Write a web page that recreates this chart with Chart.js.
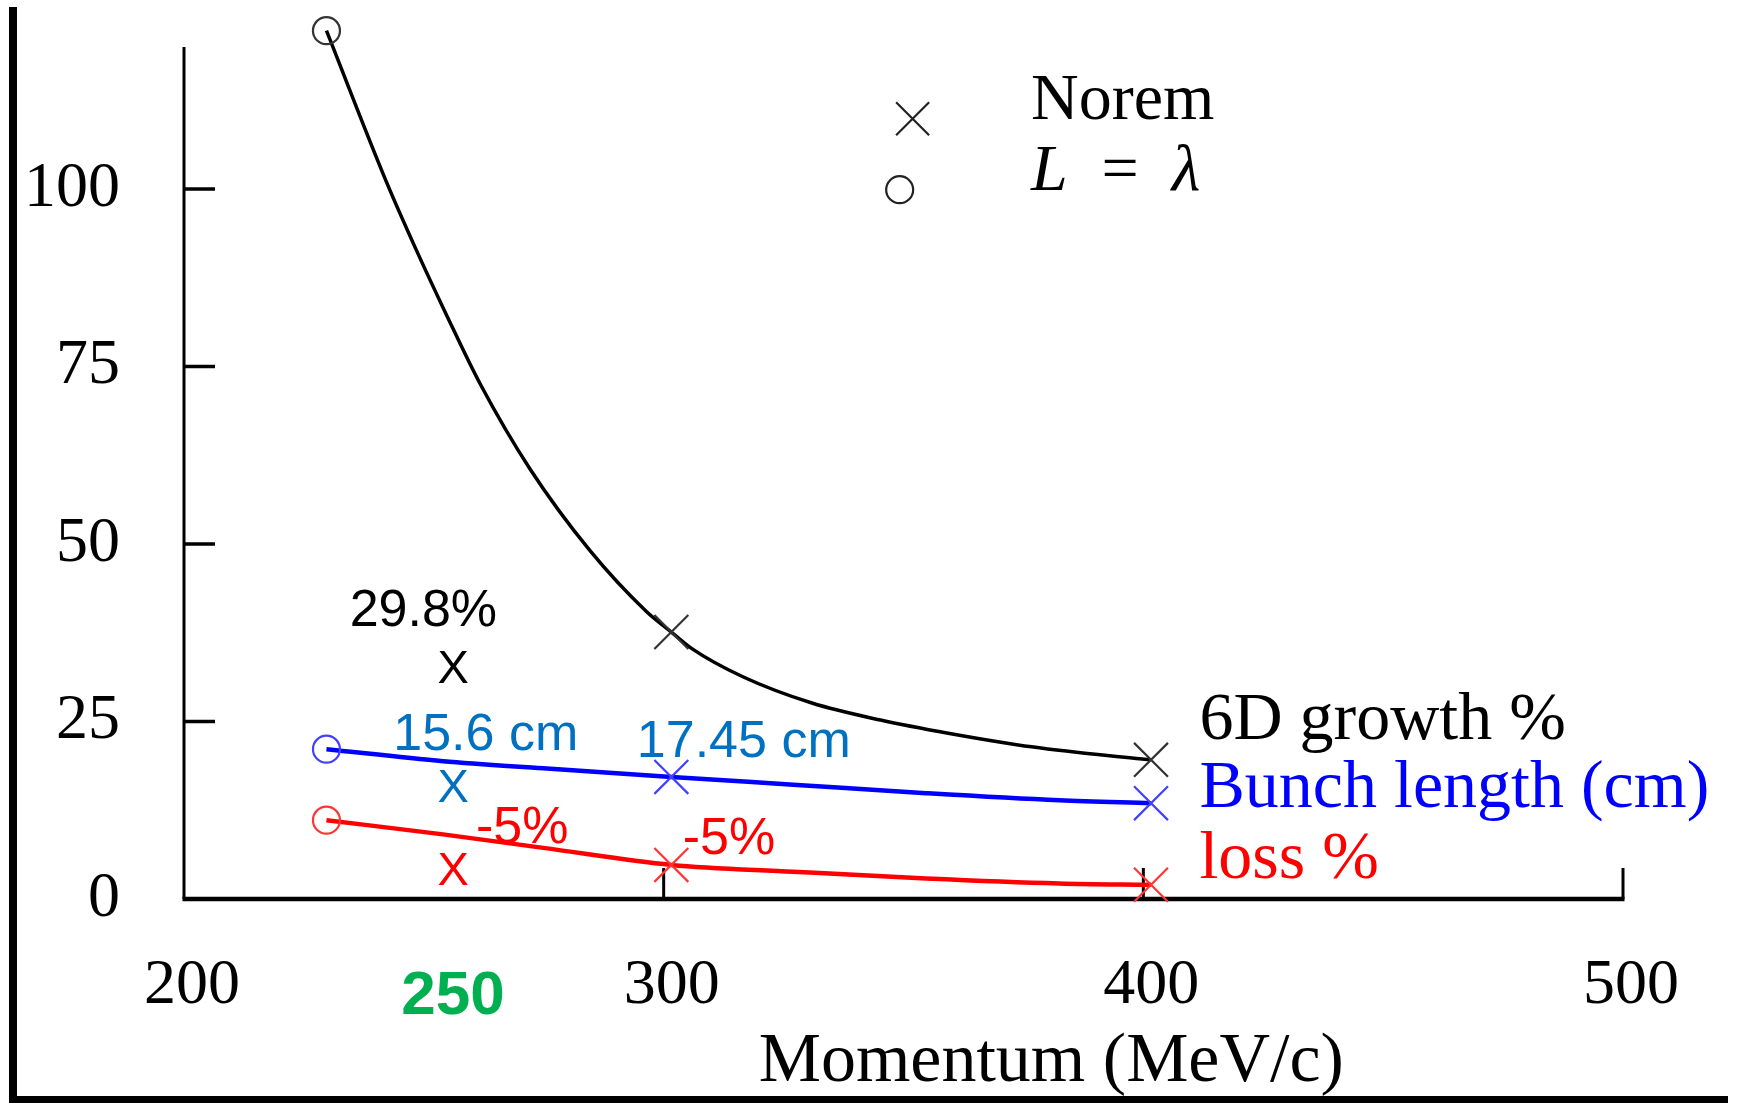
<!DOCTYPE html>
<html>
<head>
<meta charset="utf-8">
<script src="https://cdn.jsdelivr.net/npm/chart.js@4.4.1/dist/chart.umd.min.js"></script>
<style>
  html, body { margin: 0; padding: 0; background: #fff; overflow: hidden; }
  #wrap { width: 1743px; height: 1103px; position: relative; }
  canvas { display: block; }
</style>
</head>
<body>
<div id="wrap"><canvas id="c" width="1743" height="1103"></canvas></div>
<script>
// ---------------- data ----------------
const xTickValues = [200, 300, 400, 500];
const yTickValues = [0, 25, 50, 75, 100];
const yAxisTop = 120;

// fitted curves
const growthCurveX = [229.7, 242.2, 248.3, 254.7, 261.7, 272.1, 284.6, 296.4, 301.6, 305.8, 316.5, 330.9, 345.2, 359.6, 373.9, 388.3, 401.6];
const growthCurveY = [122.3, 101.0, 91.6, 82.3, 72.6, 60.6, 49.1, 40.5, 37.6, 35.3, 31.3, 27.6, 25.2, 23.3, 21.7, 20.5, 19.6];
const bunchCurveX  = [229.7, 254.0, 274.9, 301.6, 327.0, 354.7, 382.5, 401.6];
const bunchCurveY  = [21.1, 19.4, 18.4, 17.2, 16.1, 14.9, 13.9, 13.5];
const lossCurveX   = [229.7, 254.0, 274.9, 301.6, 327.0, 354.7, 382.5, 401.6];
const lossCurveY   = [11.1, 9.1, 7.2, 4.8, 3.85, 2.9, 2.2, 2.0];

// "Norem" points (x markers)
const noremMomentum = [301.6, 401.6];
const noremGrowth   = [37.6, 19.6];
const noremBunch    = [17.2, 13.5];
const noremLoss     = [4.8, 2.0];

// "L = lambda" points (circles)
const lambdaMomentum = [229.7];
const lambdaGrowth   = [122.3];
const lambdaBunch    = [21.1];
const lambdaLoss     = [11.1];

// new 250 MeV/c points drawn as "X" letters
const newMomentum = [256.1];
const newGrowth   = [32.8];
const newBunch    = [16.1];
const newLoss     = [4.3];
const newTickLabel = '250';

// annotation texts
const annotationTexts = ['29.8%', '15.6 cm', '-5%', '17.45 cm', '-5%'];
const seriesNames = ['6D growth %', 'Bunch length (cm)', 'loss %'];
const legendNames = ['Norem', 'L = λ'];
const xTitle = 'Momentum (MeV/c)';

// ---------------- layout / styles ----------------
const serif = "'Liberation Serif', 'DejaVu Serif', serif";
const sans = "'Liberation Sans', Arial, sans-serif";
const annotationPos = [[249.9, 38.5], [262.9, 21.0], [270.5, 7.9], [316.7, 20.0], [313.6, 6.4]];
const annotationColors = ['#000000', '#0070C0', '#FF0000', '#0070C0', '#FF0000'];
const seriesLabelPos = [[411.7, 22.5], [411.7, 12.9], [411.7, 3.0]];
const seriesColors = ['#000000', '#0000FF', '#FF0000'];
const markerColors = ['#333333', '#4040FF', '#FF3535'];

const toPts = (xs, ys) => xs.map((x, i) => ({ x: x, y: ys[i] }));

function curve(xs, ys, color, w) {
  return { data: toPts(xs, ys), showLine: true, borderColor: color, borderWidth: w,
           pointRadius: 0, cubicInterpolationMode: 'monotone', clip: false, fill: false };
}
function marks(xs, ys, color, style, r) {
  return { data: toPts(xs, ys), showLine: false, pointStyle: style, pointRadius: r,
           pointBorderColor: color, pointBackgroundColor: 'rgba(0,0,0,0)', pointBorderWidth: 2.2,
           borderColor: color, clip: false };
}

const overlay = {
  id: 'overlay',
  beforeDatasetsDraw(chart) {
    const ctx = chart.ctx, xs = chart.scales.x, ys = chart.scales.y;
    const px = v => xs.getPixelForValue(v), py = v => ys.getPixelForValue(v);
    ctx.save();
    ctx.strokeStyle = '#000';
    ctx.lineCap = 'butt';
    const x0 = px(xTickValues[0]), y0 = py(0);
    // y axis
    ctx.lineWidth = 3;
    ctx.beginPath(); ctx.moveTo(x0, y0); ctx.lineTo(x0, py(yAxisTop)); ctx.stroke();
    // x axis
    ctx.lineWidth = 4.5;
    ctx.beginPath(); ctx.moveTo(x0 - 1.5, y0); ctx.lineTo(px(xTickValues[xTickValues.length - 1]) + 1.5, y0); ctx.stroke();
    // inward ticks
    ctx.lineWidth = 3.5;
    yTickValues.forEach(v => { if (v > 0) { ctx.beginPath(); ctx.moveTo(x0, py(v)); ctx.lineTo(x0 + 31, py(v)); ctx.stroke(); } });
    ctx.lineWidth = 3;
    xTickValues.forEach(v => { if (v > xTickValues[0]) { ctx.beginPath(); ctx.moveTo(px(v), y0); ctx.lineTo(px(v), y0 - 31); ctx.stroke(); } });
    ctx.restore();
  },
  afterDatasetsDraw(chart) {
    const ctx = chart.ctx, xs = chart.scales.x, ys = chart.scales.y;
    const px = v => xs.getPixelForValue(v), py = v => ys.getPixelForValue(v);
    ctx.save();
    ctx.textBaseline = 'alphabetic';

    // "X" letters for the 250 MeV/c points
    const xSize = 47;
    ctx.font = xSize + 'px ' + sans;
    ctx.textAlign = 'center';
    [newGrowth, newBunch, newLoss].forEach((arr, i) => {
      ctx.fillStyle = ['#000000', '#0070C0', '#FF0000'][i];
      ctx.fillText('X', px(newMomentum[0]), py(arr[0]) + 0.358 * xSize);
    });

    // annotations
    ctx.font = '52px ' + sans;
    annotationTexts.forEach((t, i) => {
      ctx.fillStyle = annotationColors[i];
      ctx.fillText(t, px(annotationPos[i][0]), py(annotationPos[i][1]));
    });

    // green 250 label
    ctx.font = 'bold 62px ' + sans;
    ctx.fillStyle = '#00B050';
    ctx.fillText(newTickLabel, px(newMomentum[0]), py(-16.2));

    // series names
    ctx.textAlign = 'left';
    ctx.font = '68px ' + serif;
    seriesNames.forEach((t, i) => {
      ctx.fillStyle = seriesColors[i];
      ctx.fillText(t, px(seriesLabelPos[i][0]), py(seriesLabelPos[i][1]));
    });

    // axis title
    ctx.textAlign = 'center';
    ctx.font = '70px ' + serif;
    ctx.fillStyle = '#000';
    ctx.fillText(xTitle, px(380.8), py(-25.6));

    // legend
    ctx.strokeStyle = '#222';
    ctx.lineWidth = 2.2;
    const cx = px(351.9), cy = py(109.9), h = 16.5;
    ctx.beginPath();
    ctx.moveTo(cx - h, cy - h); ctx.lineTo(cx + h, cy + h);
    ctx.moveTo(cx - h, cy + h); ctx.lineTo(cx + h, cy - h);
    ctx.stroke();
    ctx.beginPath(); ctx.arc(px(349.2), py(99.9), 13.5, 0, Math.PI * 2); ctx.stroke();

    ctx.textAlign = 'left';
    ctx.fillStyle = '#000';
    ctx.font = '66px ' + serif;
    const tx = px(376.6);
    ctx.fillText(legendNames[0], tx, py(109.9));
    // L = lambda
    const by = py(99.9);
    ctx.font = 'italic 66px ' + serif;
    ctx.fillText('L', tx, by);
    ctx.font = '66px ' + serif;
    ctx.textAlign = 'center';
    ctx.fillText('=', tx + 89, by);
    ctx.font = 'italic 66px ' + serif;
    ctx.fillText('λ', tx + 155, by);

    // frame (left and bottom bars)
    ctx.fillStyle = '#000';
    ctx.fillRect(9, 7, 8, chart.height - 7);
    ctx.fillRect(9, chart.height - 7, 1719, 7);
    ctx.restore();
  }
};

new Chart(document.getElementById('c'), {
  type: 'scatter',
  data: {
    datasets: [
      marks(noremMomentum, noremGrowth, markerColors[0], 'crossRot', 24),
      marks(noremMomentum, noremBunch, markerColors[1], 'crossRot', 24),
      marks(noremMomentum, noremLoss, markerColors[2], 'crossRot', 24),
      marks(lambdaMomentum, lambdaGrowth, markerColors[0], 'circle', 13.5),
      marks(lambdaMomentum, lambdaBunch, markerColors[1], 'circle', 13.5),
      marks(lambdaMomentum, lambdaLoss, markerColors[2], 'circle', 13.5),
      curve(growthCurveX, growthCurveY, '#000000', 3.5),
      curve(bunchCurveX, bunchCurveY, '#0000FF', 4.5),
      curve(lossCurveX, lossCurveY, '#FF0000', 4.5)
    ]
  },
  options: {
    responsive: false,
    animation: false,
    devicePixelRatio: 1,
    layout: { autoPadding: false, padding: { left: 0, right: 120, top: 11.5, bottom: 0 } },
    plugins: { legend: { display: false }, tooltip: { enabled: false } },
    events: [],
    scales: {
      x: {
        type: 'linear', min: 200, max: 500,
        grid: { display: false, drawTicks: false },
        border: { display: false },
        afterBuildTicks: s => { s.ticks = xTickValues.map(v => ({ value: v })); },
        ticks: {
          padding: 55.5, labelOffset: 8, maxRotation: 0, autoSkip: false,
          color: '#000', font: { family: serif, size: 64, lineHeight: 1 },
          callback: v => String(v)
        },
        afterFit: s => { s.height = 204; s.paddingLeft = 0; s.paddingRight = 0; }
      },
      y: {
        type: 'linear', min: 0, max: 125,
        grid: { display: false, drawTicks: false },
        border: { display: false },
        afterBuildTicks: s => { s.ticks = yTickValues.map(v => ({ value: v })); },
        ticks: {
          padding: 64, color: '#000', autoSkip: false,
          font: { family: serif, size: 64, lineHeight: 1 },
          callback: v => String(v)
        },
        afterFit: s => { s.width = 184; s.paddingTop = 0; s.paddingBottom = 0; }
      }
    }
  },
  plugins: [overlay]
});
</script>
</body>
</html>
